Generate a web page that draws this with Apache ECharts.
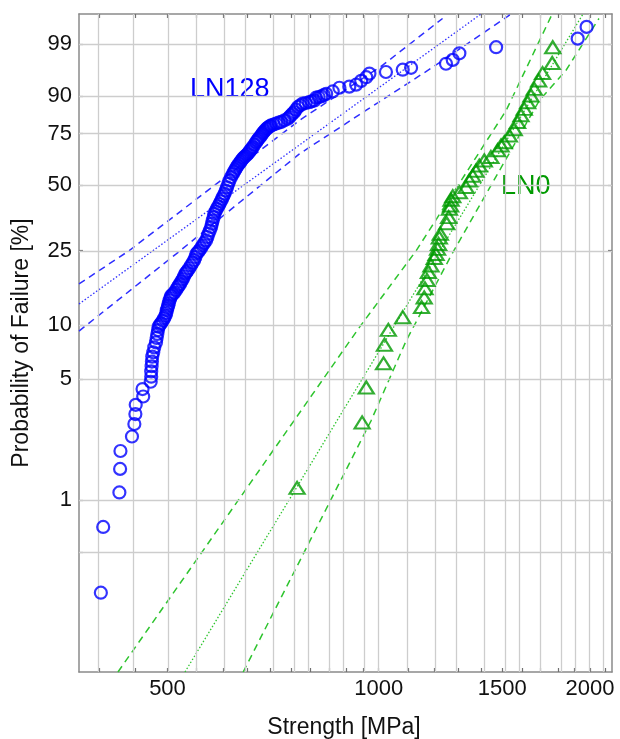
<!DOCTYPE html>
<html>
<head>
<meta charset="utf-8">
<script src="https://cdn.jsdelivr.net/npm/echarts@6/dist/echarts.min.js"></script>
<style>
html,body{margin:0;padding:0;background:#fff;}
#main{width:620px;height:739px;}
</style>
</head>
<body>
<div id="main"></div>
<script>
// ---- data (strength in MPa, probability of failure in %) ----
const ln128Strength = [401.8,404.9,427,428,428.5,445,448.5,450,450.5,461.7,460.7,473.2,474,474,474.6,475.1,475.6,477.2,478.8,481.5,482.5,483.6,484.7,485.8,488,489.7,492.3,494.5,496.7,498,498.9,500,501.1,502.2,503.3,504.7,506.1,508.8,511.6,514.3,517.1,519,521,523.3,525.6,527.8,530.1,532,534.1,537,540,543,545.9,548,549.9,552.5,555,558,561,564,567.6,570,572,574.5,577,578.5,580,581.7,583.3,585.5,588,590.5,593,595.5,598,600.5,603,605.5,608,610.5,612.8,616,619.5,622,624.5,627,629.6,632.3,635,637.5,640,642.5,645,648,650.8,653.4,656,658.8,661.5,665,668.7,671.3,674,677,680,682.5,685,688,691,694,697,700,702.6,708,714,720,726,734,742,746,750,754,758,762,767,773,779,787,796,803,810,814,821,828,835,841.6,860,879,908,928.6,944,960,970,1024,1082,1112,1247,1275,1303,1470,1921,1978];
const ln128Prob = [0.29,0.70,1.11,1.52,1.93,2.34,2.76,3.15,3.56,3.97,4.38,4.82,5.15,5.52,5.90,6.27,6.69,7.07,7.54,8.04,8.51,8.96,9.42,9.84,10.1,10.3,10.6,10.95,11.3,11.7,12.1,12.45,12.8,13.2,13.7,14.1,14.5,14.8,15.1,15.6,16.1,16.45,16.8,17.3,17.8,18.4,19.0,19.35,19.7,20.3,21.0,21.7,22.4,23.2,24.1,24.5,25.0,25.7,26.5,27.3,28.1,29.2,30.3,31.4,32.6,33.8,35.0,36.3,37.6,38.6,39.6,40.6,41.6,42.7,43.8,45.0,46.1,47.5,49.0,50.6,52.2,53.8,55.3,56.4,57.4,58.4,59.4,60.3,61.1,62.0,62.8,63.4,64.0,64.6,65.2,66.0,66.9,67.7,68.5,69.7,70.9,71.7,72.5,73.3,74.1,74.9,75.6,76.3,77.0,77.5,78.0,78.4,78.7,79.1,79.5,79.9,80.2,80.9,81.6,82.3,83.0,83.7,84.3,85.2,86.2,86.8,87.4,87.6,87.9,88.2,88.5,89.4,89.6,89.8,90.2,90.6,91.3,92.3,92.6,93.1,94.0,94.8,95.5,95.8,96.2,96.5,97.1,97.6,98.3,98.8,99.3,99.7];

const ln0Strength = [765,947,960,1016,1019,1032,1082,1151,1161,1164,1172,1177,1187,1200,1207,1213,1217,1220,1224,1250,1258,1261,1266,1268,1275,1303,1332,1346,1361,1376,1391,1414,1445,1477,1494,1510,1535,1560,1577,1595,1612,1630,1648,1666,1690,1712,1767,1770];
const ln0Prob = [1.18,2.82,4.47,6.13,7.81,9.44,11.1,12.6,14.2,15.9,17.6,19.4,21.0,22.9,24.0,25.5,27.0,29.0,30.3,34.0,36.3,39.6,41.0,43.4,45.0,46.7,49.1,52.2,54.5,56.9,59.4,61.9,63.6,67.0,69.3,70.9,74.1,77.0,80.2,83.0,85.5,87.9,90.1,92.0,94.1,95.6,97.2,98.8];

// Weibull fit lines and confidence bounds
const ln128FitStrength = [374, 1399];
const ln128FitProb = [13.1, 99.9];
const ln128UpperStrength = [374, 441, 771, 1013, 1233];
const ln128UpperProb = [16.8, 25.0, 80.9, 96.9, 99.85];
const ln128LowerStrength = [374, 514, 771, 960, 1194, 1544];
const ln128LowerProb = [9.3, 24.0, 65.2, 85.0, 96.6, 99.9];

const ln0FitStrength = [529.5, 1955];
const ln0FitProb = [0.1, 99.9];
const ln0LeftStrength = [425, 654.5, 938.5, 1131, 1519, 1767];
const ln0LeftProb = [0.1, 1.24, 9.75, 25.0, 84.9, 99.9];
const ln0RightStrength = [641, 841.6, 975.4, 1094, 1268, 1694, 1849, 2060];
const ln0RightProb = [0.1, 0.89, 2.89, 8.2, 23.6, 88.5, 96.1, 99.85];

// ticks / grid
const strengthTicks = [500, 1000, 1500, 2000];
const probTicks = [1, 5, 10, 25, 50, 75, 90, 99];
const strengthGrid = [400,450,500,550,600,650,700,750,800,850,900,950,1000,1100,1200,1300,1400,1500,1600,1700,1800,1900,2000,2100];
const probGrid = [0.5, 1, 5, 10, 25, 50, 75, 90, 99];
const strengthRange = [374, 2150];
const probRange = [0.1, 99.9];

// ---- transforms (Weibull probability paper) ----
const tx = v => Math.log10(v);
const ty = p => Math.log(-Math.log(1 - p / 100));
const pairs = (xs, ys) => xs.map((x, i) => [tx(x), ty(ys[i])]);

const BLUE = '#0000ff';
const BLUE_L = '#2f2fff';
const GREEN = '#009a00';
const GREEN_L = '#2ec42e';
const FONT = 'Liberation Sans, Arial, sans-serif';

const xMin = tx(strengthRange[0]), xMax = tx(strengthRange[1]);
const yMin = ty(probRange[0]), yMax = ty(probRange[1]);

const xTickVals = strengthTicks.map(tx);
const yTickVals = probTicks.map(ty);
const xGridVals = strengthGrid.map(tx);
const yGridVals = probGrid.map(ty);

function baseX(show, pos) {
  return {
    type: 'value', min: xMin, max: xMax, position: pos,
    axisLine: { show: true, onZero: false, lineStyle: { color: '#8a8a8a', width: 1.5 } },
    axisTick: { show: true, inside: true, length: 4, customValues: xGridVals, lineStyle: { color: '#707070', width: 1.2 } },
    axisLabel: show ? {
      show: true, customValues: xTickVals, margin: 6,
      fontSize: 22, color: '#111', fontFamily: FONT,
      formatter: v => String(Math.round(Math.pow(10, v)))
    } : { show: false },
    splitLine: { show: false }
  };
}
function baseY(show, pos) {
  return {
    type: 'value', min: yMin, max: yMax, position: pos,
    axisLine: { show: true, onZero: false, lineStyle: { color: '#8a8a8a', width: 1.5 } },
    axisTick: { show: true, inside: true, length: 4, customValues: yGridVals, lineStyle: { color: '#707070', width: 1.2 } },
    axisLabel: show ? {
      show: true, customValues: yTickVals, margin: 7,
      fontSize: 22, color: '#111', fontFamily: FONT,
      formatter: v => String(Math.round(100 * (1 - Math.exp(-Math.exp(v)))))
    } : { show: false },
    splitLine: { show: false }
  };
}

function lineSeries(xs, ys, color, type, width) {
  return {
    type: 'line', data: pairs(xs, ys), showSymbol: false, symbol: 'none',
    silent: true, z: 3, clip: true,
    lineStyle: { color: color, type: type, width: width }
  };
}

const option = {
  animation: false,
  backgroundColor: '#fff',
  grid: { left: 79, right: 8, top: 14, bottom: 67, containLabel: false },
  xAxis: [baseX(true, 'bottom'), baseX(false, 'top')],
  yAxis: [baseY(true, 'left'), baseY(false, 'right')],
  graphic: [
    { type: 'text', left: 190, top: 76, style: { text: 'LN128', fontSize: 27, fill: BLUE, fontFamily: FONT } },
    { type: 'text', left: 501, top: 173, style: { text: 'LN0', fontSize: 27, fill: GREEN, fontFamily: FONT } },
    { type: 'text', x: 344, y: 728, style: { text: 'Strength [MPa]', fontSize: 23, fill: '#111', fontFamily: FONT, textAlign: 'center', textVerticalAlign: 'middle' } },
    { type: 'text', x: 22, y: 343, rotation: Math.PI / 2, style: { text: 'Probability of Failure [%]', fontSize: 23, fill: '#111', fontFamily: FONT, textAlign: 'center', textVerticalAlign: 'middle' } }
  ],
  series: [
    {
      type: 'line', data: [], silent: true, z: 1,
      markLine: {
        silent: true, symbol: 'none', animation: false,
        label: { show: false },
        lineStyle: { color: '#cdcdcd', width: 1.3, type: 'solid' },
        data: xGridVals.map(v => ({ xAxis: v })).concat(yGridVals.map(v => ({ yAxis: v })))
      }
    },
    lineSeries(ln128FitStrength, ln128FitProb, BLUE_L, [1.5, 2], 1.3),
    lineSeries(ln128UpperStrength, ln128UpperProb, BLUE_L, [7, 5], 1.5),
    lineSeries(ln128LowerStrength, ln128LowerProb, BLUE_L, [7, 5], 1.5),
    lineSeries(ln0FitStrength, ln0FitProb, GREEN_L, [1.5, 2], 1.3),
    lineSeries(ln0LeftStrength, ln0LeftProb, GREEN_L, [7, 5], 1.5),
    lineSeries(ln0RightStrength, ln0RightProb, GREEN_L, [7, 5], 1.5),
    {
      name: 'LN128', type: 'scatter', z: 5,
      data: pairs(ln128Strength, ln128Prob),
      symbol: 'circle', symbolSize: 12,
      itemStyle: { color: 'rgba(0,0,0,0)', borderColor: BLUE, borderWidth: 2.2 }
    },
    {
      name: 'LN0', type: 'scatter', z: 5,
      data: pairs(ln0Strength, ln0Prob),
      symbol: 'triangle', symbolSize: [15, 12],
      itemStyle: { color: 'rgba(0,0,0,0)', borderColor: GREEN, borderWidth: 2.2 }
    }
  ]
};

const chart = echarts.init(document.getElementById('main'), null, { renderer: 'canvas' });
chart.setOption(option);
</script>
</body>
</html>
